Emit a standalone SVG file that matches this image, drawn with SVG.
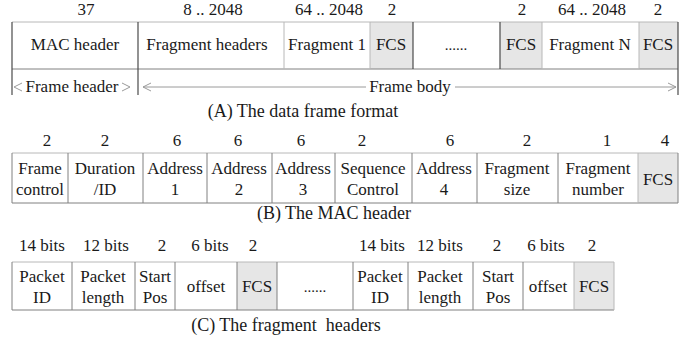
<svg xmlns="http://www.w3.org/2000/svg" width="690" height="345" viewBox="0 0 690 345">
  <style>
    text { font-family: "Liberation Serif", "Times New Roman", serif; font-size: 17px; fill: #1a1a1a; text-anchor: middle; }
    .cap { font-size: 18px; }
    .dots { font-size: 15px; }
    .fcs { fill: #e6e6e6; stroke: none; }
    .dk { stroke: #4a4a4a; stroke-width: 1.2; fill: none; }
    .md { stroke: #808080; stroke-width: 1; fill: none; }
    .lt { stroke: #b8b8b8; stroke-width: 1; fill: none; }
    .arr { stroke: #9a9a9a; stroke-width: 1; fill: none; }
  </style>

  <!-- (A) data frame format -->
  <g id="frame-format">
    <g id="a-sizes">
      <text x="86" y="15">37</text>
      <text x="213" y="15">8 .. 2048</text>
      <text x="329" y="15">64 .. 2048</text>
      <text x="392" y="15">2</text>
      <text x="522" y="15">2</text>
      <text x="592" y="15">64 .. 2048</text>
      <text x="658" y="15">2</text>
    </g>
    <rect class="fcs" x="370" y="22" width="43" height="47"/>
    <rect class="fcs" x="500" y="22" width="42" height="47"/>
    <rect class="fcs" x="639" y="22" width="39" height="47"/>
    <line class="lt" x1="12" y1="22" x2="678" y2="22"/>
    <line class="md" x1="12" y1="69" x2="678" y2="69"/>
    <line class="lt" x1="284" y1="22" x2="284" y2="69"/>
    <line class="lt" x1="370" y1="22" x2="370" y2="69"/>
    <line class="lt" x1="542" y1="22" x2="542" y2="69"/>
    <line class="lt" x1="639" y1="22" x2="639" y2="69"/>
    <line class="dk" x1="413" y1="22" x2="413" y2="69"/>
    <line class="dk" x1="500" y1="22" x2="500" y2="69"/>
    <line class="dk" x1="12" y1="22" x2="12" y2="95"/>
    <line class="dk" x1="138" y1="22" x2="138" y2="95"/>
    <line class="dk" x1="678" y1="22" x2="678" y2="95"/>
    <g id="mac-header"><text x="75" y="50">MAC header</text></g>
    <g id="fragment-headers"><text x="207" y="50">Fragment headers</text></g>
    <g id="fragment-1"><text x="327" y="50">Fragment 1</text></g>
    <g id="fcs-1"><text x="391" y="50">FCS</text></g>
    <g id="fragments-more"><text class="dots" x="456" y="50">......</text></g>
    <g id="fcs-n-1"><text x="521" y="50">FCS</text></g>
    <g id="fragment-n"><text x="590" y="50">Fragment N</text></g>
    <g id="fcs-n"><text x="658" y="50">FCS</text></g>

    <!-- header / body spans -->
    <g id="spans">
      <polyline class="arr" points="22,83 14,87 22,91"/>
      <text x="72" y="92">Frame header</text>
      <polyline class="arr" points="122,83 130,87 122,91"/>
      <polyline class="arr" points="151,83 143,87 151,91"/>
      <line class="arr" x1="143" y1="87" x2="366" y2="87"/>
      <text x="410" y="92">Frame body</text>
      <line class="arr" x1="455" y1="87" x2="676" y2="87"/>
      <polyline class="arr" points="668,83 676,87 668,91"/>
    </g>
    <text class="cap" x="303" y="117">(A) The data frame format</text>
  </g>

  <!-- (B) MAC header -->
  <g id="mac-format">
    <g id="b-sizes">
      <text x="47" y="146">2</text>
      <text x="105" y="146">2</text>
      <text x="177" y="146">6</text>
      <text x="238" y="146">6</text>
      <text x="301" y="146">6</text>
      <text x="362" y="146">2</text>
      <text x="450" y="146">6</text>
      <text x="527" y="146">2</text>
      <text x="607" y="146">1</text>
      <text x="665" y="146">4</text>
    </g>
    <rect class="fcs" x="638" y="153" width="40" height="50"/>
    <line class="lt" x1="12" y1="153" x2="678" y2="153"/>
    <line class="md" x1="12" y1="203" x2="678" y2="203"/>
    <line class="md" x1="12" y1="153" x2="12" y2="203"/>
    <line class="md" x1="68" y1="153" x2="68" y2="203"/>
    <line class="md" x1="143" y1="153" x2="143" y2="203"/>
    <line class="md" x1="207" y1="153" x2="207" y2="203"/>
    <line class="md" x1="272" y1="153" x2="272" y2="203"/>
    <line class="md" x1="335" y1="153" x2="335" y2="203"/>
    <line class="md" x1="412" y1="153" x2="412" y2="203"/>
    <line class="md" x1="477" y1="153" x2="477" y2="203"/>
    <line class="md" x1="558" y1="153" x2="558" y2="203"/>
    <line class="lt" x1="638" y1="153" x2="638" y2="203"/>
    <line class="md" x1="678" y1="153" x2="678" y2="203"/>
    <g id="frame-control"><text x="40" y="174">Frame</text><text x="40" y="195">control</text></g>
    <g id="duration-id"><text x="105" y="174">Duration</text><text x="105" y="195">/ID</text></g>
    <g id="address-1"><text x="175" y="174">Address</text><text x="175" y="195">1</text></g>
    <g id="address-2"><text x="239" y="174">Address</text><text x="239" y="195">2</text></g>
    <g id="address-3"><text x="303" y="174">Address</text><text x="303" y="195">3</text></g>
    <g id="sequence-control"><text x="373" y="174">Sequence</text><text x="373" y="195">Control</text></g>
    <g id="address-4"><text x="444" y="174">Address</text><text x="444" y="195">4</text></g>
    <g id="fragment-size"><text x="517" y="174">Fragment</text><text x="517" y="195">size</text></g>
    <g id="fragment-number"><text x="598" y="174">Fragment</text><text x="598" y="195">number</text></g>
    <g id="mac-fcs"><text x="658" y="185">FCS</text></g>
    <text class="cap" x="334" y="219">(B) The MAC header</text>
  </g>

  <!-- (C) fragment headers -->
  <g id="fragment-format">
    <g id="c-sizes">
      <text x="42" y="251">14 bits</text>
      <text x="106" y="251">12 bits</text>
      <text x="162" y="251">2</text>
      <text x="210" y="251">6 bits</text>
      <text x="253" y="251">2</text>
      <text x="382" y="251">14 bits</text>
      <text x="440" y="251">12 bits</text>
      <text x="497" y="251">2</text>
      <text x="546" y="251">6 bits</text>
      <text x="592" y="251">2</text>
    </g>
    <rect class="fcs" x="237" y="262" width="40" height="48"/>
    <rect class="fcs" x="574" y="262" width="40" height="48"/>
    <line class="lt" x1="12" y1="262" x2="614" y2="262"/>
    <line class="md" x1="12" y1="310" x2="614" y2="310"/>
    <line class="md" x1="12" y1="262" x2="12" y2="310"/>
    <line class="md" x1="72" y1="262" x2="72" y2="310"/>
    <line class="md" x1="135" y1="262" x2="135" y2="310"/>
    <line class="md" x1="175" y1="262" x2="175" y2="310"/>
    <line class="md" x1="237" y1="262" x2="237" y2="310"/>
    <line class="md" x1="277" y1="262" x2="277" y2="310"/>
    <line class="md" x1="353" y1="262" x2="353" y2="310"/>
    <line class="md" x1="408" y1="262" x2="408" y2="310"/>
    <line class="md" x1="473" y1="262" x2="473" y2="310"/>
    <line class="md" x1="523" y1="262" x2="523" y2="310"/>
    <line class="lt" x1="574" y1="262" x2="574" y2="310"/>
    <line class="lt" x1="614" y1="262" x2="614" y2="310"/>
    <g id="packet-id-1"><text x="42" y="282">Packet</text><text x="42" y="303">ID</text></g>
    <g id="packet-length-1"><text x="103" y="282">Packet</text><text x="103" y="303">length</text></g>
    <g id="start-pos-1"><text x="155" y="282">Start</text><text x="155" y="303">Pos</text></g>
    <g id="offset-1"><text x="206" y="292">offset</text></g>
    <g id="frag-fcs-1"><text x="257" y="292">FCS</text></g>
    <g id="frag-more"><text class="dots" x="315" y="292">......</text></g>
    <g id="packet-id-2"><text x="380" y="282">Packet</text><text x="380" y="303">ID</text></g>
    <g id="packet-length-2"><text x="440" y="282">Packet</text><text x="440" y="303">length</text></g>
    <g id="start-pos-2"><text x="498" y="282">Start</text><text x="498" y="303">Pos</text></g>
    <g id="offset-2"><text x="548" y="292">offset</text></g>
    <g id="frag-fcs-2"><text x="594" y="292">FCS</text></g>
    <text class="cap" x="286" y="331" xml:space="preserve">(C) The fragment  headers</text>
  </g>
</svg>
